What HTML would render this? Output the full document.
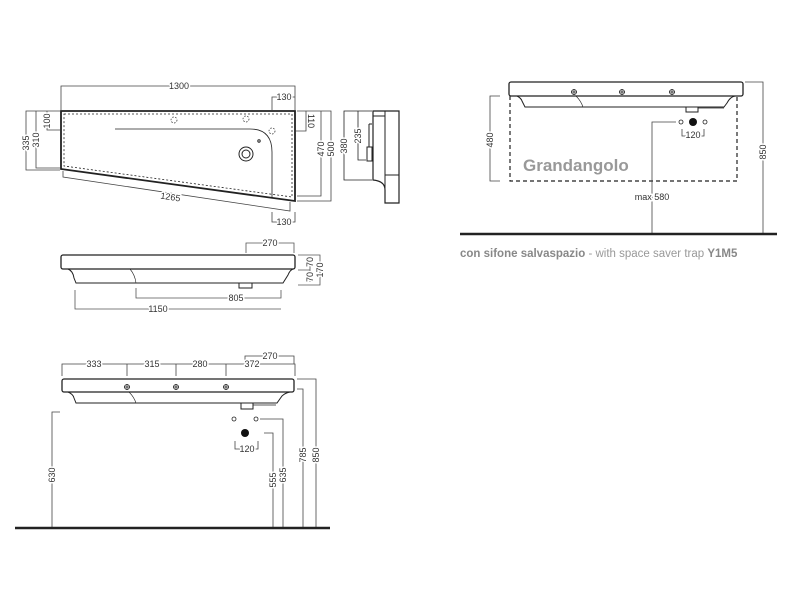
<!DOCTYPE html>
<html><head><style>body{margin:0;background:#fff}svg{display:block}text{font-family:"Liberation Sans",sans-serif;font-size:9px;fill:#333;paint-order:stroke;stroke:#fff;stroke-width:3px;stroke-linejoin:round}</style></head><body>
<svg width="800" height="600" viewBox="0 0 800 600" xmlns="http://www.w3.org/2000/svg">
<g fill="none" stroke="#222" stroke-width="1">
<!-- plan view -->
<path d="M61,111 L295,111 L295,201 L61,169 Z" stroke-width="1.8"/>
<path d="M64,114 L292,114 L292,197 L64,166 Z" stroke-dasharray="2,2" stroke-width="0.8"/>
<path d="M115,129 L250,129 Q272,129 272,152 L272,198" stroke-width="0.8"/>
<circle cx="174" cy="120" r="3" stroke-dasharray="1.5,1.5" stroke-width="0.7"/>
<circle cx="246" cy="119" r="3" stroke-dasharray="1.5,1.5" stroke-width="0.7"/>
<circle cx="272" cy="131" r="3" stroke-dasharray="1.5,1.5" stroke-width="0.7"/>
<circle cx="246" cy="154" r="7"/><circle cx="246" cy="154" r="4"/>
<circle cx="259" cy="141" r="1.2"/>
<g stroke="#444" stroke-width="0.8">
<path d="M61,110 V86 H295 V110"/>
<path d="M272,110 V97 H295"/>
<path d="M60,111 H26 V170 H60 M36,111 V168 H60 M47,111 V130 H60"/>
<path d="M297,111 H306 V131 H296 M297,111 H331 V201 H297 M321,111 V196 H297"/>
<path d="M63,171 V177 L290,211 V202"/>
<path d="M272,212 V222 H295 V212"/>
</g>
<!-- side profile -->
<path d="M373,111 H399 V203 H385 V190 Q385,181 373,180 Z" stroke-width="1.2"/>
<path d="M373,116 H385 M385,111 V190 M385,175 H399"/>
<rect x="367" y="147" width="5" height="14"/><path d="M369,124 V147 M369,124 H372"/>
<path d="M372,111 H344 V180 H372 M372,111 H358 V160 H366" stroke-width="0.8"/>
<!-- front elevation -->
<rect x="61" y="255" width="234" height="14" rx="2" stroke-width="1.3"/>
<path d="M68,269 Q73,271 74,278 L76,283 H283 L288,275 Q290,270 293,269"/>
<path d="M130,269 Q135,275 136,283" stroke-width="0.6"/>
<rect x="239" y="283" width="13" height="5"/>
<g stroke="#555" stroke-width="0.8">
<path d="M246,253 V243 H294 V253"/>
<path d="M298,255 H320 V285 H298 M298,270 H310 M310,258 V282"/>
<path d="M136,288 V298 H281 V290"/>
<path d="M75,290 V309 H281"/>
</g>
<!-- bottom elevation -->
<rect x="62" y="379" width="232" height="13" rx="2" stroke-width="1.3"/>
<path d="M68,392 Q73,394 74,398 L76,403 H277 L282,396 Q285,393 290,392"/>
<path d="M129,392 Q134,397 136,403" stroke-width="0.6"/>
<rect x="241" y="403" width="12" height="6"/>
<path d="M253,405 H276" stroke-width="0.7"/>
<g stroke-width="0.8">
<path d="M124,387 H130 M127,384 V390 M173,387 H179 M176,384 V390 M223,387 H229 M226,384 V390"/>
<circle cx="127" cy="387" r="2.5"/><circle cx="176" cy="387" r="2.5"/><circle cx="226" cy="387" r="2.5"/>
<circle cx="234" cy="419" r="2"/><circle cx="256" cy="419" r="2"/>
</g>
<g stroke="#444" stroke-width="0.8">
<path d="M62,376 V364 H295 V376 M127,364 V376 M176,364 V376 M226,364 V376"/>
<path d="M245,362 V356 H294 V364"/>
<path d="M60,412 H52 V528"/>
<path d="M264,433 H273 V528 M260,419 H283 V528 M297,389 H303 V528 M297,379 H316 V528"/>
<path d="M235,441 V449 H240 M255,449 H258 V441"/>
</g>
<path d="M15,528 H330" stroke-width="2.5"/>
<!-- right view -->
<rect x="509" y="82" width="234" height="14" rx="2" stroke-width="1.3"/>
<path d="M517,96 Q521,98 522,101 L525,107 H581 L714,107 H724 L727,103 Q730,97 735,96"/>
<path d="M576,96 Q581,101 583,107" stroke-width="0.6"/>
<rect x="686" y="107" width="12" height="5"/>
<path d="M698,108 H724" stroke-width="0.7"/>
<g stroke-width="0.8">
<path d="M571,92 H577 M574,89 V95 M619,92 H625 M622,89 V95 M669,92 H675 M672,89 V95"/>
<circle cx="574" cy="92" r="2.5"/><circle cx="622" cy="92" r="2.5"/><circle cx="672" cy="92" r="2.5"/>
<circle cx="681" cy="122" r="2"/><circle cx="705" cy="122" r="2"/>
</g>
<path d="M510,96 V181 H737 V96" stroke-dasharray="4,3" stroke-width="1.2"/>
<g stroke="#444" stroke-width="0.8">
<path d="M500,96 H490 V181 H500"/>
<path d="M676,122 H652 V234"/>
<path d="M745,82 H763 V234"/>
<path d="M682,129 V136 H686 M700,136 H704 V129"/>
</g>
<path d="M460,234 H777" stroke-width="2.5"/>
</g>
<circle cx="245" cy="433" r="4" fill="#111"/>
<circle cx="693" cy="122" r="4" fill="#111"/>
<text x="179" y="89" text-anchor="middle">1300</text>
<text x="284" y="100" text-anchor="middle">130</text>
<text x="284" y="225" text-anchor="middle">130</text>
<text x="170" y="200" text-anchor="middle" transform="rotate(8.5 170 200)">1265</text>
<g text-anchor="middle">
<text transform="translate(29,143) rotate(-90)">335</text>
<text transform="translate(39,140) rotate(-90)">310</text>
<text transform="translate(50,121) rotate(-90)">100</text>
<text transform="translate(308,121) rotate(90)">110</text>
<text transform="translate(324,149) rotate(-90)">470</text>
<text transform="translate(334,149) rotate(-90)">500</text>
<text transform="translate(347,146) rotate(-90)">380</text>
<text transform="translate(361,136) rotate(-90)">235</text>
<text x="270" y="246">270</text>
<text transform="translate(313,262) rotate(-90)">70</text>
<text transform="translate(313,277) rotate(-90)">70</text>
<text transform="translate(323,270) rotate(-90)">170</text>
<text x="236" y="301">805</text>
<text x="158" y="312">1150</text>
<text x="94" y="367">333</text>
<text x="152" y="367">315</text>
<text x="200" y="367">280</text>
<text x="252" y="367">372</text>
<text x="270" y="359">270</text>
<text transform="translate(55,475) rotate(-90)">630</text>
<text transform="translate(276,480) rotate(-90)">555</text>
<text transform="translate(286,475) rotate(-90)">635</text>
<text transform="translate(306,455) rotate(-90)">785</text>
<text transform="translate(319,455) rotate(-90)">850</text>
<text x="247" y="452">120</text>
<text transform="translate(493,140) rotate(-90)">480</text>
<text transform="translate(766,152) rotate(-90)">850</text>
<text x="693" y="138">120</text>
<text x="652" y="200">max 580</text>
</g>
<text x="523" y="171" style="font-size:17px;font-weight:bold;fill:#999">Grandangolo</text>
<text x="460" y="257" style="font-size:11.5px;fill:#999"><tspan style="font-weight:bold;fill:#888">con sifone salvaspazio</tspan> - with space saver trap <tspan style="font-weight:bold;fill:#888">Y1M5</tspan></text>
</svg>
</body></html>
